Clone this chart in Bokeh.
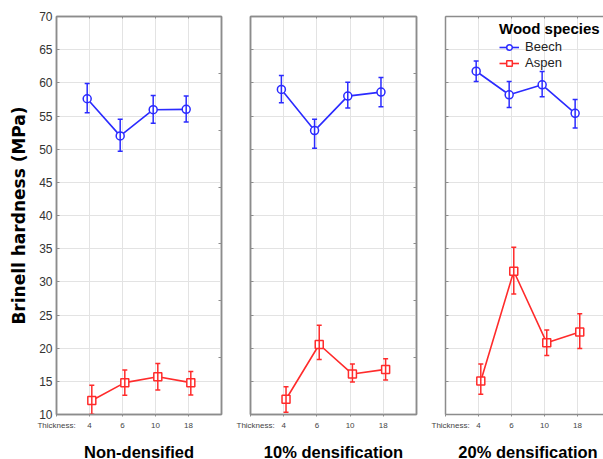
from bokeh.plotting import figure
from bokeh.layouts import row, column
from bokeh.models import (ColumnDataSource, Whisker, TeeHead, FixedTicker,
                          LinearAxis, Legend, LegendItem, Range1d, Label)
from bokeh.embed import file_html
from bokeh.resources import INLINE

# ---------------- data ----------------
thickness = ["4", "6", "10", "18"]
panels = ["Non-densified", "10% densification", "20% densification"]

beech_mean = [[57.6, 52.0, 55.95, 56.0], [59.0, 52.8, 58.0, 58.6], [61.75, 58.2, 59.7, 55.4]]
beech_upper = [[59.9, 54.5, 58.1, 58.0], [61.1, 54.5, 60.1, 60.8], [63.3, 60.2, 61.7, 57.5]]
beech_lower = [[55.5, 49.7, 53.9, 54.1], [57.0, 50.15, 56.2, 56.4], [60.2, 56.3, 57.9, 53.2]]

aspen_mean = [[12.1, 14.8, 15.7, 14.8], [12.3, 20.55, 16.1, 16.8], [15.05, 31.6, 20.8, 22.45]]
aspen_upper = [[14.4, 16.7, 17.7, 16.5], [14.2, 23.45, 17.6, 18.4], [17.6, 35.2, 22.75, 25.2]]
aspen_lower = [[10.05, 12.9, 13.7, 12.95], [10.35, 18.3, 14.9, 15.2], [13.05, 28.15, 18.9, 19.95]]

y_ticks = [10, 15, 20, 25, 30, 35, 40, 45, 50, 55, 60, 65, 70]

# ---------------- style ----------------
FONT = "Liberation Sans"
BLUE = "#2b2bff"
RED = "#ff2b2b"
FRAME = "#8c8c8c"
GRID = "#e3e3e3"

widths = [236, 195, 172]
border_left = [56, 14, 14]
border_right = [15, 15, 0]
x_ends = [5, 5, 4.79]
H_MAIN = 440
H_TITLE = 19


def frame_axis(ticks, tick_in):
    return LinearAxis(ticker=FixedTicker(ticks=ticks),
                      major_label_text_font_size="0px", major_label_text_color=None,
                      major_label_standoff=0,
                      major_tick_in=tick_in, major_tick_out=0, major_tick_line_color=FRAME,
                      minor_tick_line_color=None, axis_line_color=FRAME, axis_line_width=1.5)


figs = []
title_figs = []
for i, name in enumerate(panels):
    p = figure(width=widths[i], height=H_MAIN, output_backend="svg", toolbar_location=None,
               x_range=Range1d(0, x_ends[i]), y_range=Range1d(10, 70),
               min_border_left=border_left[i], min_border_right=border_right[i],
               min_border_top=16, min_border_bottom=26)
    p.background_fill_color = "white"
    p.border_fill_color = "white"
    p.outline_line_color = FRAME if i < 2 else None
    p.outline_line_width = 1.5

    cat_pos = list(range(1, len(thickness) + 1))

    # bottom axis
    xa = p.xaxis[0]
    xa.ticker = FixedTicker(ticks=[0] + cat_pos)
    overrides = {0: "Thickness:"}
    for k, t in enumerate(thickness):
        overrides[k + 1] = t
    xa.major_label_overrides = overrides
    xa.major_label_text_font = FONT
    xa.major_label_text_font_size = "8px"
    xa.major_label_text_color = "#444444"
    xa.major_label_standoff = 4
    xa.major_tick_in = 0
    xa.major_tick_out = 2
    xa.major_tick_line_color = FRAME
    xa.minor_tick_line_color = None
    xa.axis_line_color = FRAME
    xa.axis_line_width = 1.5

    # left axis
    ya = p.yaxis[0]
    ya.ticker = FixedTicker(ticks=y_ticks)
    ya.major_tick_in = 3
    ya.major_tick_out = 0
    ya.major_tick_line_color = FRAME
    ya.minor_tick_line_color = None
    ya.axis_line_color = FRAME
    ya.axis_line_width = 1.5
    if i == 0:
        ya.major_label_text_font = FONT
        ya.major_label_text_font_size = "12px"
        ya.major_label_text_color = "#333333"
        ya.major_label_standoff = 4
        ya.axis_label = "Brinell hardness (MPa)"
        ya.axis_label_text_font = "DejaVu Sans"
        ya.axis_label_text_font_style = "bold"
        ya.axis_label_text_font_size = "17px"
        ya.axis_label_text_color = "black"
        ya.axis_label_standoff = 7
    else:
        ya.major_label_text_font_size = "0px"
        ya.major_label_text_color = None
        ya.major_label_standoff = 0

    # right and top frame ticks
    if i < 2:
        p.add_layout(frame_axis([10 + 60 * k / 7 for k in range(1, 7)], 3), "right")
    p.add_layout(frame_axis(cat_pos, 2), "above")

    p.xgrid.ticker = FixedTicker(ticks=cat_pos)
    p.xgrid.grid_line_color = GRID
    p.ygrid.ticker = FixedTicker(ticks=y_ticks)
    p.ygrid.grid_line_color = GRID

    series = [
        ("Beech", beech_mean[i], beech_upper[i], beech_lower[i], BLUE, "circle", -0.07),
        ("Aspen", aspen_mean[i], aspen_upper[i], aspen_lower[i], RED, "square", 0.07),
    ]
    legend_items = []
    for label, m, up, lo, col, mk, off in series:
        src = ColumnDataSource(dict(x=[c + off for c in cat_pos], m=m, up=up, lo=lo))
        w = Whisker(source=src, base="x", upper="up", lower="lo", dimension="height",
                    line_color=col, line_width=1.5, level="glyph",
                    upper_head=TeeHead(size=5, line_color=col, line_width=1.5),
                    lower_head=TeeHead(size=5, line_color=col, line_width=1.5))
        p.add_layout(w)
        ln = p.line("x", "m", source=src, line_color=col, line_width=1.6)
        sc = p.scatter("x", "m", source=src, marker=mk, size=8, fill_color="white",
                       line_color=col, line_width=1.5)
        legend_items.append(LegendItem(label=label, renderers=[ln, sc]))

    if i == 2:
        leg = Legend(items=legend_items, title="Wood species", location=(54, 344),
                     title_text_font=FONT, title_text_font_style="bold",
                     title_text_font_size="15px", title_text_color="black",
                     title_standoff=2,
                     label_text_font=FONT, label_text_font_size="13px",
                     label_text_color="#222222", label_standoff=6,
                     glyph_width=20, glyph_height=14, spacing=1, padding=0, margin=0,
                     background_fill_alpha=0, border_line_color=None)
        p.add_layout(leg)
    figs.append(p)

    # strip holding the panel title below each panel
    t = figure(width=widths[i], height=H_TITLE, output_backend="svg", toolbar_location=None,
               x_range=Range1d(0, x_ends[i]), y_range=Range1d(0, 1),
               x_axis_type=None, y_axis_type=None,
               min_border_left=border_left[i], min_border_right=border_right[i],
               min_border_top=0, min_border_bottom=0)
    t.outline_line_color = None
    t.grid.visible = False
    t.add_layout(Label(x=2.5, y=8, x_units="data", y_units="screen", text=name,
                       text_align="center", text_baseline="middle",
                       text_font=FONT, text_font_style="bold", text_font_size="16.5px",
                       text_color="black"))
    title_figs.append(t)

layout = column(row(*figs), row(*title_figs))
open("out.html", "w").write(file_html(layout, INLINE))
